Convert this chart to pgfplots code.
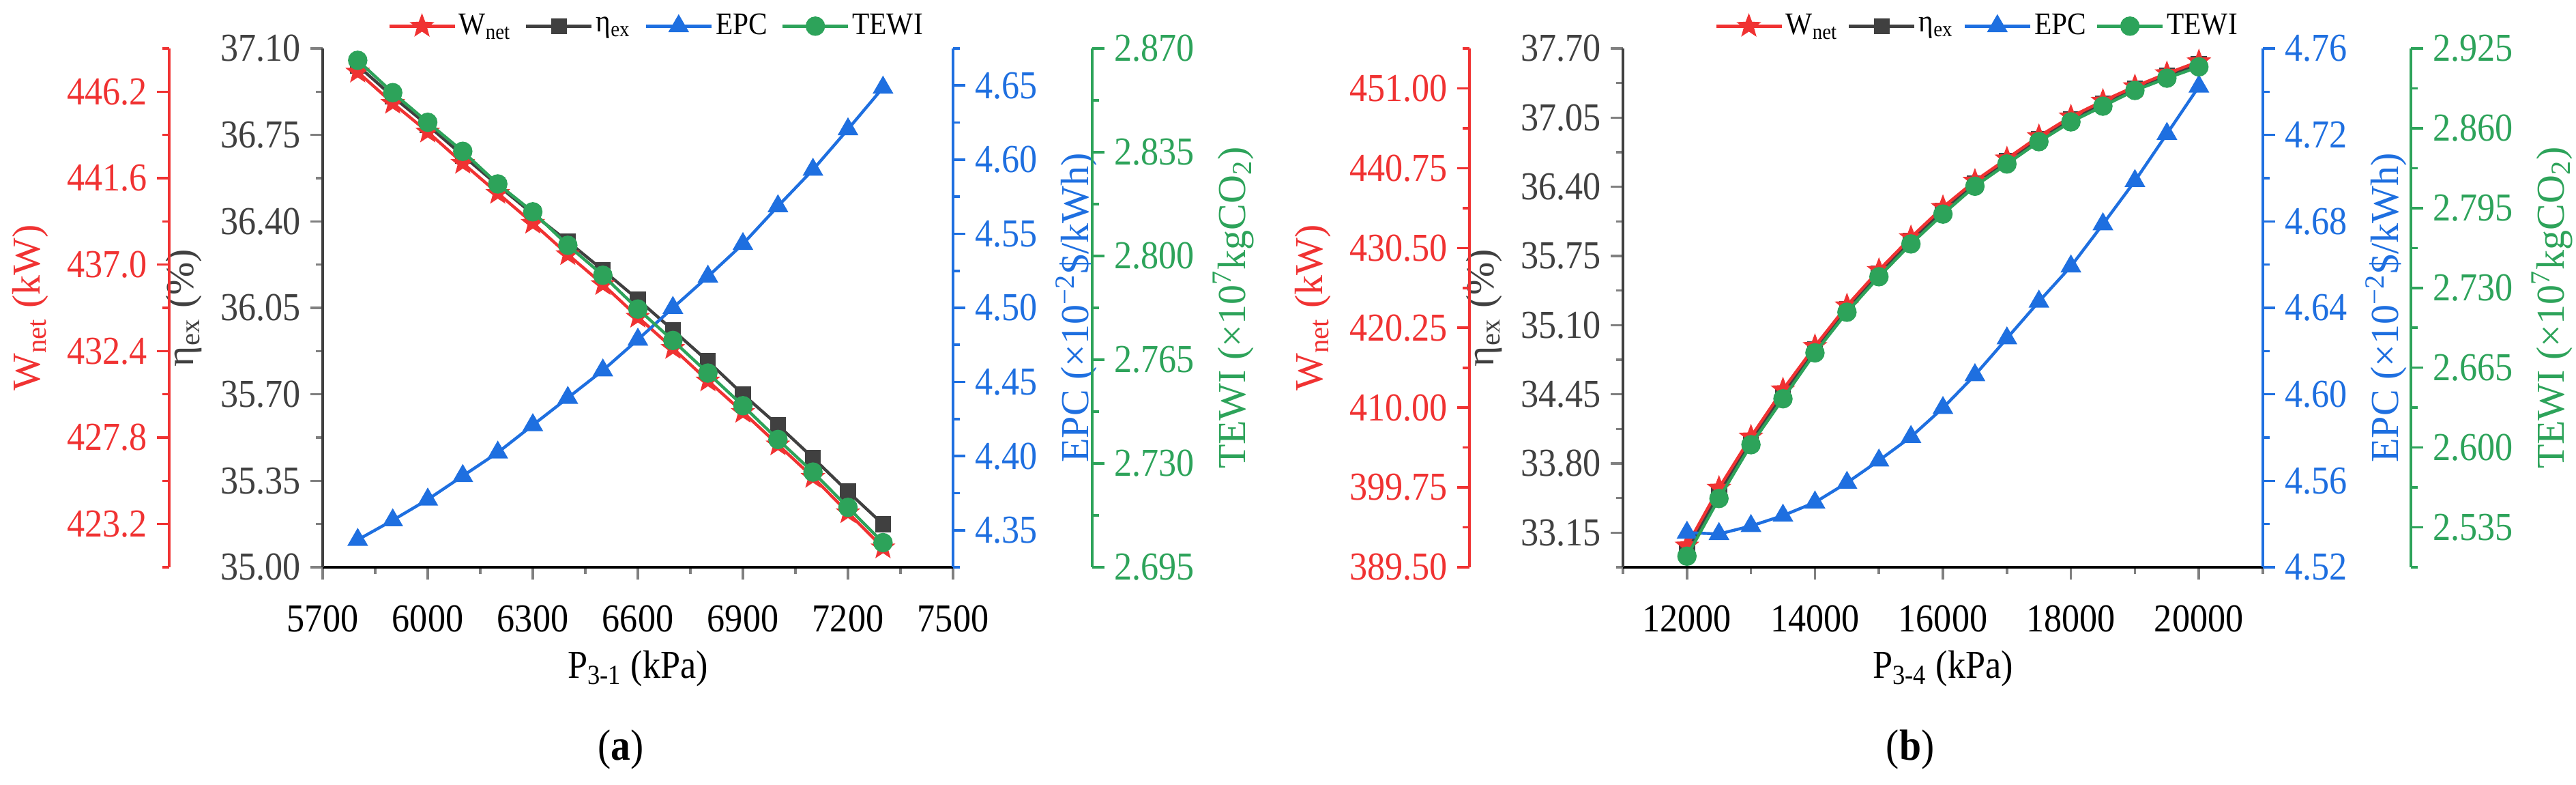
\documentclass[border=0pt]{standalone}
\usepackage{pgfplots}
\pgfplotsset{compat=1.18}
\usepackage{pgfplotstable}
\usepackage{fontspec}
\setmainfont[FakeStretch=0.9]{Liberation Serif}
\newfontfamily\rotfont{Liberation Serif}
\definecolor{cred}{RGB}{240,50,50}
\definecolor{cgray}{RGB}{64,64,64}
\definecolor{cblue}{RGB}{30,111,224}
\definecolor{cgreen}{RGB}{45,163,90}

\pgfdeclareplotmark{fstar}{%
 \pgfpathmoveto{\pgfpointpolar{90}{\pgfplotmarksize}}%
 \pgfpathlineto{\pgfpointpolar{126}{0.42\pgfplotmarksize}}%
 \pgfpathlineto{\pgfpointpolar{162}{\pgfplotmarksize}}%
 \pgfpathlineto{\pgfpointpolar{198}{0.42\pgfplotmarksize}}%
 \pgfpathlineto{\pgfpointpolar{234}{\pgfplotmarksize}}%
 \pgfpathlineto{\pgfpointpolar{270}{0.42\pgfplotmarksize}}%
 \pgfpathlineto{\pgfpointpolar{306}{\pgfplotmarksize}}%
 \pgfpathlineto{\pgfpointpolar{342}{0.42\pgfplotmarksize}}%
 \pgfpathlineto{\pgfpointpolar{18}{\pgfplotmarksize}}%
 \pgfpathlineto{\pgfpointpolar{54}{0.42\pgfplotmarksize}}%
 \pgfpathclose
 \pgfusepathqfillstroke
}

\pgfplotstableread{
x W eta EPC TEWI
5800 447.25 37.031 4.3435 2.8660
5900 445.59 36.905 4.3567 2.8551
6000 444.06 36.789 4.3707 2.8451
6100 442.40 36.667 4.3866 2.8353
6200 440.80 36.546 4.4024 2.8243
6300 439.21 36.430 4.4209 2.8149
6400 437.54 36.319 4.4393 2.8036
6500 435.95 36.203 4.4578 2.7935
6600 434.21 36.084 4.4786 2.7821
6700 432.55 35.960 4.5000 2.7715
6800 430.82 35.834 4.5211 2.7605
6900 429.15 35.700 4.5431 2.7495
7000 427.42 35.575 4.5686 2.7381
7100 425.69 35.443 4.5932 2.7271
7200 423.81 35.306 4.6205 2.7152
7300 421.94 35.174 4.6486 2.7033
}\dataA

\pgfplotstableread{
x W eta EPC TEWI
12000 392.26 32.978 4.5360 2.5115
12500 399.68 33.521 4.5354 2.5585
13000 406.25 34.014 4.5391 2.6023
13500 412.31 34.451 4.5439 2.6397
14000 417.88 34.871 4.5500 2.6771
14500 423.10 35.253 4.5591 2.7102
15000 427.65 35.586 4.5694 2.7391
15500 431.86 35.894 4.5803 2.7658
16000 435.74 36.176 4.5937 2.7901
16500 439.11 36.430 4.6089 2.8128
17000 441.97 36.640 4.6259 2.8309
17500 444.84 36.849 4.6429 2.8491
18000 447.36 37.034 4.6592 2.8652
18500 449.38 37.182 4.6787 2.8780
19000 451.24 37.324 4.6987 2.8908
19500 452.92 37.444 4.7205 2.9008
20000 454.44 37.552 4.7424 2.9100
}\dataB

\pgfplotsset{
  every axis/.append style={
    scale only axis, height=190pt, clip=false, anchor=south west,
    tick align=outside, major tick length=4.5pt, minor tick length=2.5pt,
    axis line style={line width=0.9pt},
    tick style={line width=0.9pt},
    scaled x ticks=false, scaled y ticks=false,
    /pgf/number format/assume math mode=true,
    /pgf/number format/set thousands separator={},
    tick label style={font=\fontsize{14.5}{17}\selectfont},
    xticklabel style={yshift=-6pt},
    xlabel style={font=\fontsize{14.5}{17}\selectfont},
    ylabel style={font=\rotfont\fontsize{14.5}{17}\selectfont},
  },
  yfmt/.style={yticklabel style={/pgf/number format/fixed,/pgf/number format/fixed zerofill,/pgf/number format/precision=#1}},
  sW/.style={cred, line width=1.1pt, mark=fstar, mark size=3.2pt},
  sE/.style={cgray, line width=1.1pt, mark=square*, mark size=2.4pt},
  sP/.style={cblue, line width=1.1pt, mark=triangle*, mark size=3.3pt},
  sT/.style={cgreen, line width=1.1pt, mark=*, mark size=3pt},
  leg/.style 2 args={
    legend columns=4,
    legend style={draw=none, fill=none, at={#1}, anchor=center,
      font=\fontsize{11.5}{13}\selectfont,
      /tikz/every even column/.append style={column sep=#2},
      /tikz/every odd column/.append style={column sep=-1pt}},
    legend image code/.code={\draw[mark repeat=2,mark phase=2,##1] plot coordinates {(0pt,0pt) (12pt,0pt) (24pt,0pt)};},
  },
}

\begin{document}
\begin{tikzpicture}
\useasboundingbox (0,0) rectangle (944pt,287.25pt);

% ================= panel (a) =================
\begin{axis}[at={(118.25pt,79.5pt)}, width=231pt,
  xmin=5700, xmax=7500, ymin=35, ymax=37.1,
  axis x line*=bottom, axis y line*=left,
  y axis line style={cgray},
  xtick={5700,6000,6300,6600,6900,7200,7500}, minor x tick num=1,
  ytick={35,35.35,35.7,36.05,36.4,36.75,37.1}, minor y tick num=1,
  yfmt=2, yticklabel style={cgray},
  xlabel={P\textsubscript{3-1} (kPa)},
  ylabel={η\textsubscript{ex} (\%)}, ylabel style={cgray}]
\addplot[sE] table[x=x,y=eta]{\dataA};
\end{axis}

\begin{axis}[at={(118.25pt,79.5pt)}, width=231pt,
  xmin=5700, xmax=7500, ymin=420.9, ymax=448.5, hide x axis, hide y axis]
\addplot[sW] table[x=x,y=W]{\dataA};
\end{axis}

\begin{axis}[at={(62pt,79.5pt)}, width=1pt,
  xmin=0, xmax=1, ymin=420.9, ymax=448.5, hide x axis, axis y line*=left,
  y axis line style={cred}, tick style={cred},
  ytick={423.2,427.8,432.4,437.0,441.6,446.2},
  minor ytick={420.9,425.5,430.1,434.7,439.3,443.9,448.5},
  yfmt=1, yticklabel style={cred},
  ylabel={W\textsubscript{net} (kW)}, ylabel style={cred}]
\end{axis}

\begin{axis}[at={(118.25pt,79.5pt)}, width=231pt,
  xmin=5700, xmax=7500, ymin=4.325, ymax=4.675,
  hide x axis, axis y line*=right,
  y axis line style={cblue}, tick style={cblue},
  ytick={4.35,4.40,4.45,4.50,4.55,4.60,4.65},
  minor ytick={4.325,4.375,4.425,4.475,4.525,4.575,4.625,4.675},
  yfmt=2, yticklabel style={cblue},
  ylabel={EPC (×10\textsuperscript{−2}\$/kWh)}, ylabel style={cblue}]
\addplot[sP] table[x=x,y=EPC]{\dataA};
\end{axis}

\begin{axis}[at={(399.25pt,79.5pt)}, width=1pt,
  xmin=0, xmax=1, ymin=2.695, ymax=2.870, hide x axis, axis y line*=right,
  y axis line style={cgreen}, tick style={cgreen},
  ytick={2.695,2.730,2.765,2.800,2.835,2.870}, minor y tick num=1,
  yfmt=3, yticklabel style={cgreen},
  ylabel={TEWI (×10\textsuperscript{7}kgCO\textsubscript{2})}, ylabel style={cgreen}]
\end{axis}

\begin{axis}[at={(118.25pt,79.5pt)}, width=231pt,
  xmin=5700, xmax=7500, ymin=2.695, ymax=2.870, hide x axis, hide y axis,
  leg={(0.532,1.043)}{3pt},
  legend entries={W\textsubscript{net},η\textsubscript{ex},EPC,TEWI}]
\addlegendimage{sW}
\addlegendimage{sE}
\addlegendimage{sP}
\addplot[sT] table[x=x,y=TEWI]{\dataA};
\end{axis}

% ================= panel (b) =================
\begin{axis}[at={(594.75pt,79.5pt)}, width=234.5pt,
  xmin=11000, xmax=21000, ymin=32.825, ymax=37.70,
  axis x line*=bottom, axis y line*=left,
  y axis line style={cgray},
  xtick={12000,14000,16000,18000,20000},
  minor xtick={11000,13000,15000,17000,19000,21000},
  ytick={33.15,33.80,34.45,35.10,35.75,36.40,37.05,37.70},
  minor ytick={32.825,33.475,34.125,34.775,35.425,36.075,36.725,37.375},
  yfmt=2, yticklabel style={cgray},
  xlabel={P\textsubscript{3-4} (kPa)},
  ylabel={η\textsubscript{ex} (\%)}, ylabel style={cgray}]
\addplot[sE] table[x=x,y=eta]{\dataB};
\end{axis}

\begin{axis}[at={(594.75pt,79.5pt)}, width=234.5pt,
  xmin=11000, xmax=21000, ymin=389.5, ymax=456.125, hide x axis, hide y axis]
\addplot[sW] table[x=x,y=W]{\dataB};
\end{axis}

\begin{axis}[at={(538.5pt,79.5pt)}, width=1pt,
  xmin=0, xmax=1, ymin=389.5, ymax=456.125, hide x axis, axis y line*=left,
  y axis line style={cred}, tick style={cred},
  ytick={389.5,399.75,410,420.25,430.5,440.75,451},
  minor ytick={394.625,404.875,415.125,425.375,435.625,445.875,456.125},
  yfmt=2, yticklabel style={cred},
  ylabel={W\textsubscript{net} (kW)}, ylabel style={cred}]
\end{axis}

\begin{axis}[at={(594.75pt,79.5pt)}, width=234.5pt,
  xmin=11000, xmax=21000, ymin=4.52, ymax=4.76,
  hide x axis, axis y line*=right,
  y axis line style={cblue}, tick style={cblue},
  ytick={4.52,4.56,4.60,4.64,4.68,4.72,4.76}, minor y tick num=1,
  yfmt=2, yticklabel style={cblue},
  ylabel={EPC (×10\textsuperscript{−2}\$/kWh)}, ylabel style={cblue}]
\addplot[sP] table[x=x,y=EPC]{\dataB};
\end{axis}

\begin{axis}[at={(882.5pt,79.5pt)}, width=1pt,
  xmin=0, xmax=1, ymin=2.5025, ymax=2.925, hide x axis, axis y line*=right,
  y axis line style={cgreen}, tick style={cgreen},
  ytick={2.535,2.600,2.665,2.730,2.795,2.860,2.925},
  minor ytick={2.5025,2.5675,2.6325,2.6975,2.7625,2.8275,2.8925},
  yfmt=3, yticklabel style={cgreen},
  ylabel={TEWI (×10\textsuperscript{7}kgCO\textsubscript{2})}, ylabel style={cgreen}]
\end{axis}

\begin{axis}[at={(594.75pt,79.5pt)}, width=234.5pt,
  xmin=11000, xmax=21000, ymin=2.5025, ymax=2.925, hide x axis, hide y axis,
  leg={(0.556,1.043)}{1.5pt},
  legend entries={W\textsubscript{net},η\textsubscript{ex},EPC,TEWI}]
\addlegendimage{sW}
\addlegendimage{sE}
\addlegendimage{sP}
\addplot[sT] table[x=x,y=TEWI]{\dataB};
\end{axis}

\node[font=\fontsize{16}{19}\selectfont] at (227.5pt,12.75pt) {(\textbf{a})};
\node[font=\fontsize{16}{19}\selectfont] at (700pt,12.75pt) {(\textbf{b})};
\end{tikzpicture}
\end{document}
